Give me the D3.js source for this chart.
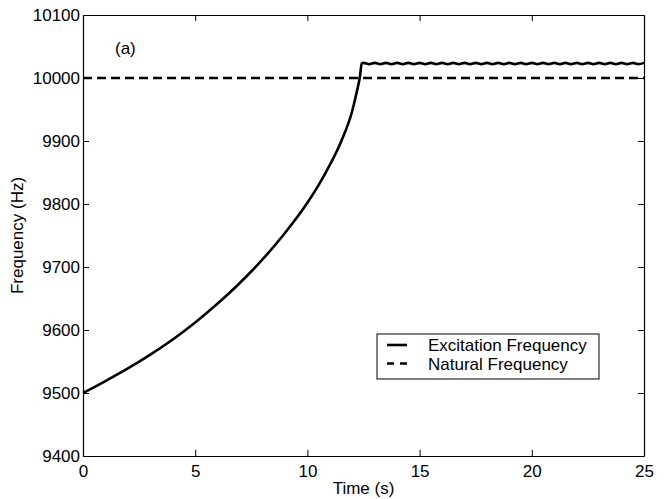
<!DOCTYPE html>
<html>
<head>
<meta charset="utf-8">
<script src="https://cdn.jsdelivr.net/npm/d3@7"></script>
<style>
  body { margin: 0; background: #fff; }
  svg { display: block; }
  text { font-family: "Liberation Sans", Arial, sans-serif; fill: #000; }
</style>
</head>
<body>
<svg width="665" height="499"></svg>
<script>
// excitation frequency while sweeping up
const riseTime = [0, 1, 2, 3, 4, 5, 6, 7, 8, 9, 10, 10.5, 11, 11.5, 12, 12.2, 12.34, 12.42];
const riseFreq = [9500, 9519, 9539, 9561, 9585, 9612, 9642, 9675, 9712, 9754, 9802, 9830, 9862, 9899, 9948, 9978, 10002, 10023];

// locked-in part: small ripple around ~10023 Hz
const lockTime = [12.5, 12.75, 13, 13.25, 13.5, 13.75, 14, 14.25, 14.5, 14.75, 15, 15.25, 15.5, 15.75,
  16, 16.25, 16.5, 16.75, 17, 17.25, 17.5, 17.75, 18, 18.25, 18.5, 18.75, 19, 19.25, 19.5, 19.75,
  20, 20.25, 20.5, 20.75, 21, 21.25, 21.5, 21.75, 22, 22.25, 22.5, 22.75, 23, 23.25, 23.5, 23.75,
  24, 24.25, 24.5, 24.75, 25];
const lockFreq = [10024, 10022, 10024, 10022, 10024, 10022, 10024, 10022, 10024, 10022, 10024, 10022, 10024, 10022,
  10024, 10022, 10024, 10022, 10024, 10022, 10024, 10022, 10024, 10022, 10024, 10022, 10024, 10022, 10024, 10022,
  10024, 10022, 10024, 10022, 10024, 10022, 10024, 10022, 10024, 10022, 10024, 10022, 10024, 10022, 10024, 10022,
  10024, 10022, 10024, 10022, 10024];

const naturalTime = [0, 25];
const naturalFreq = [10000, 10000];

const xTicks = [0, 5, 10, 15, 20, 25];
const yTicks = [9400, 9500, 9600, 9700, 9800, 9900, 10000, 10100];
const legendLabels = ['Excitation Frequency', 'Natural Frequency'];

const svg = d3.select('svg');

const plotLeft = 83, plotRight = 644, plotTop = 15, plotBottom = 456;

const x = d3.scaleLinear().domain([0, 25]).range([plotLeft, plotRight]);
const y = d3.scaleLinear().domain([9400, 10100]).range([plotBottom, plotTop]);

const fontSize = 17;

// axes, MATLAB style: ticks inward on all four sides
svg.append('g')
    .attr('transform', `translate(0, ${plotBottom})`)
    .call(d3.axisBottom(x).tickValues(xTicks).tickSizeInner(-6).tickSizeOuter(0).tickPadding(9))
    .call(g => g.selectAll('text').attr('font-size', fontSize));

svg.append('g')
    .attr('transform', `translate(0, ${plotTop})`)
    .call(d3.axisTop(x).tickValues(xTicks).tickSizeInner(-6).tickSizeOuter(0).tickFormat(''));

svg.append('g')
    .attr('transform', `translate(${plotLeft}, 0)`)
    .call(d3.axisLeft(y).tickValues(yTicks).tickSizeInner(-6).tickSizeOuter(0).tickPadding(3).tickFormat(d3.format('d')))
    .call(g => g.selectAll('text').attr('font-size', fontSize));

svg.append('g')
    .attr('transform', `translate(${plotRight}, 0)`)
    .call(d3.axisRight(y).tickValues(yTicks).tickSizeInner(-6).tickSizeOuter(0).tickFormat(''));

svg.selectAll('g').attr('font-family', null);
svg.selectAll('.domain').attr('stroke', '#000').attr('stroke-width', 1.2);
svg.selectAll('.tick line').attr('stroke', '#000');

// lines
const line = d3.line()
    .x(d => x(d[0]))
    .y(d => y(d[1]))
    .curve(d3.curveMonotoneX);

const excitation = riseTime.map((t, i) => [t, riseFreq[i]])
    .concat(lockTime.map((t, i) => [t, lockFreq[i]]));
const natural = naturalTime.map((t, i) => [t, naturalFreq[i]]);

svg.append('path')
    .attr('d', d3.line().x(d => x(d[0])).y(d => y(d[1]))(natural))
    .attr('fill', 'none')
    .attr('stroke', '#000')
    .attr('stroke-width', 2.6)
    .attr('stroke-dasharray', '9,5');

svg.append('path')
    .attr('d', line(excitation))
    .attr('fill', 'none')
    .attr('stroke', '#000')
    .attr('stroke-width', 2.6)
    .attr('stroke-linejoin', 'round');

// labels
svg.append('text')
    .attr('x', (plotLeft + plotRight) / 2)
    .attr('y', 494)
    .attr('text-anchor', 'middle')
    .attr('font-size', fontSize)
    .text('Time (s)');

svg.append('text')
    .attr('transform', `translate(23, ${(plotTop + plotBottom) / 2}) rotate(-90)`)
    .attr('text-anchor', 'middle')
    .attr('font-size', fontSize)
    .text('Frequency (Hz)');

svg.append('text')
    .attr('x', 115)
    .attr('y', 54)
    .attr('font-size', fontSize)
    .text('(a)');

// legend
const legend = svg.append('g').attr('transform', 'translate(377, 334)');

legend.append('rect')
    .attr('width', 222)
    .attr('height', 45)
    .attr('fill', '#fff')
    .attr('stroke', '#000')
    .attr('stroke-width', 1);

legendLabels.forEach((label, i) => {
    const ly = 11 + i * 18.5;
    legend.append('line')
        .attr('x1', 10).attr('x2', 30)
        .attr('y1', ly).attr('y2', ly)
        .attr('stroke', '#000')
        .attr('stroke-width', 2.6)
        .attr('stroke-dasharray', i === 0 ? null : '7,6');
    legend.append('text')
        .attr('x', 51)
        .attr('y', ly + 6)
        .attr('font-size', fontSize)
        .text(label);
});
</script>
</body>
</html>
